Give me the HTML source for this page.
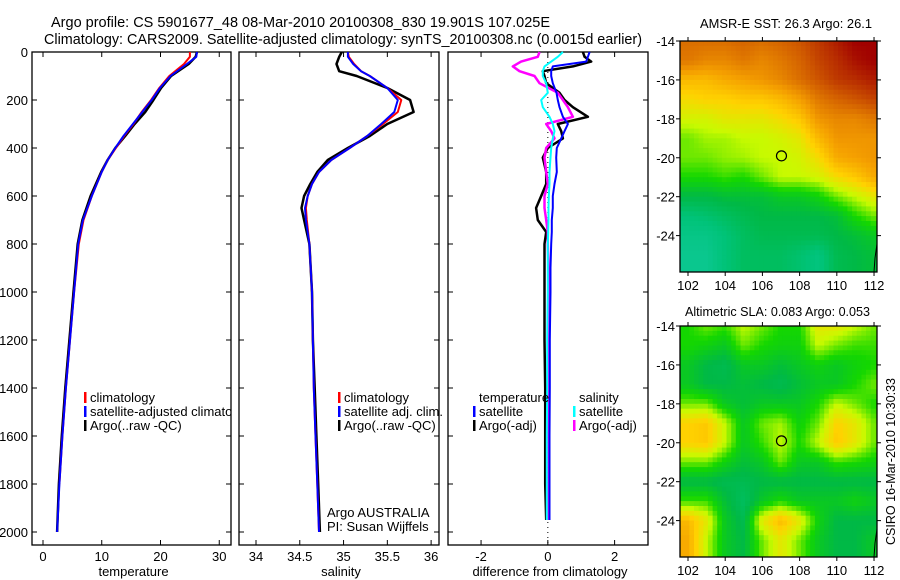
<!DOCTYPE html>
<html><head><meta charset="utf-8"><style>
html,body{margin:0;padding:0;background:#fff;}
svg{display:block;font-family:"Liberation Sans",sans-serif;}
text{fill:#000;}
</style></head><body>
<svg id="fig" width="900" height="580" viewBox="0 0 900 580">
<defs>
<clipPath id="clipT"><rect x="32" y="52" width="199" height="493"/></clipPath>
</defs>
<text x="51" y="27" font-size="15" textLength="499" lengthAdjust="spacingAndGlyphs">Argo profile: CS 5901677_48 08-Mar-2010 20100308_830 19.901S 107.025E</text>
<text x="44" y="44" font-size="15" textLength="598" lengthAdjust="spacingAndGlyphs">Climatology: CARS2009. Satellite-adjusted climatology: synTS_20100308.nc (0.0015d earlier)</text>
<text x="700" y="28" font-size="13" textLength="172" lengthAdjust="spacingAndGlyphs">AMSR-E SST: 26.3 Argo: 26.1</text>
<text x="685" y="316" font-size="13" textLength="185" lengthAdjust="spacingAndGlyphs">Altimetric SLA: 0.083 Argo: 0.053</text>
<text transform="translate(895,545) rotate(-90)" font-size="13" textLength="167" lengthAdjust="spacingAndGlyphs">CSIRO 16-Mar-2010 10:30:33</text>
<g id="layer"></g>
</svg>
<script>
// ---------- profile data ----------
const tDepth = [0,20,50,100,150,200,250,300,350,400,450,500,600,700,800,1000,1200,1400,1600,1800,2000];
const tempClim = [25.0,25.0,24.0,21.5,19.8,18.4,16.8,15.4,13.8,12.4,11.0,10.0,8.3,6.9,6.1,5.3,4.6,3.9,3.3,2.8,2.5];
const tempSat  = [26.2,26.1,24.5,21.7,19.9,18.5,16.9,15.3,13.7,12.3,11.0,10.0,8.3,6.8,6.0,5.3,4.6,3.9,3.3,2.8,2.4];
const tempArgo = [26.2,26.0,24.8,21.8,20.1,18.8,17.4,15.6,14.0,12.3,11.0,9.9,8.1,6.7,5.9,5.2,4.5,3.8,3.2,2.7,2.4];

const sDepth = [0,20,50,80,100,150,200,250,300,350,400,450,500,550,600,650,700,800,1000,1200,1400,1600,1800,2000];
const salClim = [35.05,35.06,35.12,35.2,35.3,35.5,35.66,35.62,35.45,35.27,35.07,34.86,34.72,34.64,34.59,34.57,34.58,34.61,34.64,34.65,34.66,34.68,34.7,34.72];
const salSat  = [35.05,35.05,35.11,35.2,35.3,35.5,35.62,35.58,35.43,35.27,35.07,34.86,34.72,34.64,34.59,34.56,34.57,34.61,34.64,34.65,34.66,34.68,34.7,34.72];
const salArgo = [34.98,34.95,34.92,34.95,35.15,35.5,35.76,35.8,35.5,35.3,35.05,34.82,34.7,34.62,34.55,34.52,34.55,34.61,34.64,34.65,34.67,34.69,34.71,34.73];

const dDepth = [0,20,40,60,80,100,130,170,200,230,270,300,330,360,400,440,500,550,600,650,700,750,800,900,1000,1200,1400,1600,1800,1950];
const dTempArgo = [1.05,1.1,1.3,0.75,-0.15,-0.1,-0.05,0.35,0.5,0.75,1.2,0.3,0.4,0.45,0.0,-0.15,-0.05,-0.05,-0.2,-0.35,-0.3,-0.05,-0.1,-0.1,-0.1,-0.1,-0.08,-0.08,-0.08,-0.05];
const dTempSat  = [1.25,1.2,1.15,0.15,0.1,0.1,0.15,0.26,0.3,0.35,0.45,0.6,0.5,0.4,0.27,0.25,0.27,0.2,0.15,0.15,0.12,0.12,0.1,0.08,0.08,0.06,0.06,0.05,0.05,0.05];
const dSalArgo  = [-0.25,-0.3,-0.8,-1.05,-0.85,-0.4,-0.25,0.3,0.45,0.6,0.75,-0.05,0.1,0.2,-0.05,-0.1,-0.05,0,-0.1,-0.1,-0.05,0,0,0.02,0.03,0.03,0.03,0.03,0.03,0.02];
const dSalSat   = [0.45,0.3,0.1,-0.1,-0.15,-0.15,-0.05,0,-0.2,-0.15,0.05,0.15,0.2,0.15,0.1,0.08,0.05,0.05,0.03,0.02,0.02,0.01,0,0,0,-0.02,-0.02,-0.03,-0.03,-0.03];

const depthTicks = [0,200,400,600,800,1000,1200,1400,1600,1800,2000];
const tempTicks = [0,10,20,30];
const salTicks = [34,34.5,35,35.5,36];
const diffTicks = [-2,0,2];

// ---------- map data (normalised colour index, rows lat -14..-25, cols lon 102..112) ----------
const mapLats = [-14,-15,-16,-17,-18,-19,-20,-21,-22,-23,-24,-25];
const mapLons = [102,103,104,105,106,107,108,109,110,111,112];
const sstGrid = [
[0.8,0.8,0.8,0.82,0.8,0.82,0.85,0.9,0.95,1,1],
[0.78,0.75,0.75,0.78,0.75,0.78,0.82,0.88,0.92,0.97,1],
[0.65,0.65,0.68,0.7,0.72,0.75,0.8,0.85,0.9,0.92,0.95],
[0.58,0.6,0.6,0.62,0.62,0.65,0.7,0.78,0.82,0.85,0.88],
[0.52,0.52,0.55,0.55,0.55,0.58,0.62,0.72,0.75,0.75,0.78],
[0.45,0.48,0.48,0.5,0.5,0.52,0.55,0.65,0.72,0.72,0.72],
[0.45,0.45,0.47,0.48,0.5,0.5,0.52,0.58,0.68,0.7,0.72],
[0.4,0.4,0.42,0.4,0.45,0.5,0.5,0.52,0.58,0.62,0.68],
[0.3,0.3,0.32,0.32,0.32,0.35,0.35,0.38,0.45,0.5,0.55],
[0.2,0.22,0.25,0.28,0.3,0.3,0.3,0.3,0.32,0.4,0.45],
[0.15,0.15,0.2,0.25,0.28,0.28,0.28,0.28,0.3,0.32,0.35],
[0.12,0.12,0.2,0.25,0.25,0.25,0.22,0.18,0.28,0.3,0.32]];
const slaGrid = [
[.4,.45,.42,.5,.45,.4,.4,.55,.55,.5,.45],
[.4,.38,.35,.45,.4,.38,.38,.5,.45,.42,.42],
[.35,.3,.28,.35,.35,.32,.35,.38,.35,.38,.4],
[.35,.3,.3,.32,.3,.28,.32,.35,.35,.4,.45],
[.45,.45,.35,.32,.35,.35,.35,.4,.5,.45,.4],
[.6,.62,.5,.35,.45,.48,.38,.45,.6,.55,.45],
[.6,.62,.5,.35,.42,.5,.4,.5,.62,.55,.45],
[.45,.45,.38,.32,.35,.45,.35,.35,.42,.4,.38],
[.3,.3,.28,.28,.3,.3,.3,.3,.3,.3,.3],
[.42,.42,.32,.25,.35,.4,.35,.35,.35,.38,.35],
[.65,.55,.35,.28,.55,.65,.55,.38,.3,.3,.3],
[.68,.5,.35,.3,.45,.55,.45,.35,.3,.3,.35]];
const latTicks = [-14,-16,-18,-20,-22,-24];
const lonTicks = [102,104,106,108,110,112];
const argoPos = [107.025,-19.901];

// ---------- helpers ----------
const NS = "http://www.w3.org/2000/svg";
const layer = document.getElementById('layer');
function mk(tag, attrs, parent){ const e=document.createElementNS(NS,tag); for(const k in attrs) e.setAttribute(k,attrs[k]); (parent||layer).appendChild(e); return e; }
function txt(x,y,s,anchor,size,parent){ const t=mk('text',{x:x,y:y,'font-size':size||13,'text-anchor':anchor||'start'},parent); t.textContent=s; return t; }

const depthY = d => 52 + d*0.24;
function panel(name, x0, x1, vmin, vmax, xTicks, xlabel){
  const g = mk('g',{});
  
  
  const xs = v => x0 + (v - vmin)/(vmax - vmin)*(x1 - x0);
  const fr = mk('rect',{x:x0,y:52,width:x1-x0,height:493,fill:'none',stroke:'#000','stroke-width':1.3},g);
  
  
  depthTicks.forEach(d=>{
    const y=depthY(d);
    mk('line',{x1:x0,x2:x0+5,y1:y,y2:y,stroke:'#000'},g);
    mk('line',{x1:x1-5,x2:x1,y1:y,y2:y,stroke:'#000'},g);
  });
  xTicks.forEach(v=>{
    const x=xs(v);
    mk('line',{x1:x,x2:x,y1:545,y2:540,stroke:'#000'},g);
    mk('line',{x1:x,x2:x,y1:52,y2:57,stroke:'#000'},g);
    const t=txt(x,561,String(v),'middle',13,g);
    
    
  });
  const xl=txt((x0+x1)/2+2,576,xlabel,'middle',13,g);
  
  
  return {g, xs};
}
function line(p, depths, vals, color, w, name){
  const pts = depths.map((d,i)=>p.xs(vals[i]).toFixed(1)+','+depthY(d).toFixed(1)).join(' ');
  const pl = mk('polyline',{points:pts,fill:'none',stroke:color,'stroke-width':w||2,'stroke-linejoin':'round'},p.g);
  
  
}
function legend(items, x, y0, parent){
  items.forEach((it,i)=>{
    const y=y0+i*14;
    if(it[0]) mk('rect',{x:x,y:y-10,width:2.5,height:11,fill:it[0]},parent);
    const t=txt(x+6,y,it[1],'start',13,parent);
    
    
  });
}

// depth tick labels
depthTicks.forEach(d=>{
  const t=txt(28,depthY(d)+5,String(d),'end',13);
  
  
});

// temperature panel
const pT = panel('temperature-panel',32,231,-1.87,32.0,tempTicks,'temperature');
line(pT,tDepth,tempArgo,'#000',2.5,'temp-argo-line');
line(pT,tDepth.slice(0,20),tempClim.slice(0,20),'#f00',2,'temp-climatology-line');
line(pT,tDepth,tempSat,'#00f',2,'temp-satellite-line');
const legT = mk('g',{'clip-path':'url(#clipT)'},pT.g);
legend([['#f00','climatology'],['#00f','satellite-adjusted climatology'],['#000','Argo(..raw -QC)']],84,402,legT);

// salinity panel
const pS = panel('salinity-panel',239,439,33.806,36.09,salTicks,'salinity');
line(pS,sDepth,salArgo,'#000',2.5,'sal-argo-line');
line(pS,sDepth,salClim,'#f00',2,'sal-climatology-line');
line(pS,sDepth,salSat,'#00f',2,'sal-satellite-line');
legend([['#f00','climatology'],['#00f','satellite adj. clim.'],['#000','Argo(..raw -QC)']],338,402,pS.g);
const a1=txt(327,517,'Argo AUSTRALIA','start',13,pS.g);


const a2=txt(327,531,'PI: Susan Wijffels','start',13,pS.g);



// difference panel
const pD = panel('difference-panel',448,648,-2.99,3.0,diffTicks,'difference from climatology');
const zl = mk('line',{x1:pD.xs(0),x2:pD.xs(0),y1:52,y2:545,stroke:'#000','stroke-dasharray':'1,4'},pD.g);


line(pD,dDepth,dTempArgo,'#000',2.5,'diff-temp-argo-line');
line(pD,dDepth,dSalArgo,'#f0f',2.5,'diff-sal-argo-line');
line(pD,dDepth,dTempSat,'#00f',2,'diff-temp-satellite-line');
line(pD,dDepth,dSalSat,'#0ff',2,'diff-sal-satellite-line');
legend([[null,'temperature'],['#00f','satellite'],['#000','Argo(-adj)']],473,402,pD.g);
legend([[null,'salinity'],['#0ff','satellite'],['#f0f','Argo(-adj)']],573,402,pD.g);

// ---------- maps ----------
const stops=[[0,[25,205,175]],[0.2,[0,195,120]],[0.3,[0,185,70]],[0.4,[20,215,0]],[0.5,[200,250,0]],[0.6,[255,210,0]],[0.7,[245,160,0]],[0.85,[205,85,0]],[1,[160,0,0]]];
function cmap(v){
  for(let i=1;i<stops.length;i++){
    if(v<=stops[i][0]){const a=stops[i-1],b=stops[i],t=(v-a[0])/(b[0]-a[0]);
      return 'rgb('+a[1].map((c,k)=>Math.round(c+(b[1][k]-c)*t)).join(',')+')';}
  }
  return 'rgb(160,0,0)';
}
function sample(grid, lon, lat){
  let c=Math.min(Math.max(lon-mapLons[0],0),mapLons.length-1.0001);
  let r=Math.min(Math.max(mapLats[0]-lat,0),mapLats.length-1.0001);
  const c0=Math.floor(c),r0=Math.floor(r),fc=c-c0,fr=r-r0;
  const a=grid[r0][c0],b=grid[r0][c0+1],d=grid[r0+1][c0],e=grid[r0+1][c0+1];
  return (a*(1-fc)+b*fc)*(1-fr)+(d*(1-fc)+e*fc)*fr;
}
function map(name, top, bottom, grid){
  const x0=680,x1=877, lon0=101.57, lon1=112.16, lat0=-14, lat1=-25.87;
  const g=mk('g',{});
  
  
  const xs=lon=>x0+(lon-lon0)/(lon1-lon0)*(x1-x0);
  const ys=lat=>top+(lat-lat0)/(lat1-lat0)*(bottom-top);
  const step=0.25;
  for(let lat=lat0; lat>lat1-0.001; lat-=step){
    for(let lon=lon0; lon<lon1; lon+=step){
      const xa=xs(lon), xb=Math.min(x1,xs(lon+step));
      const ya=ys(lat), yb=Math.min(bottom,ys(lat-step));
      if(yb<=ya||xb<=xa) continue;
      const cell=mk('rect',{x:xa.toFixed(1),y:ya.toFixed(1),width:(xb-xa+0.5).toFixed(1),height:(yb-ya+0.5).toFixed(1),fill:cmap(sample(grid,lon+step/2,lat-step/2))},g);
      
      
    }
  }
  mk('rect',{x:x0,y:top,width:x1-x0,height:bottom-top,fill:'none',stroke:'#000','stroke-width':1.3},g);
  latTicks.forEach(lat=>{
    const y=ys(lat);
    mk('line',{x1:x0-4,x2:x0,y1:y,y2:y,stroke:'#000'},g);
    mk('line',{x1:x1,x2:x1+4,y1:y,y2:y,stroke:'#000'},g);
    const t=txt(675,y+5,String(lat),'end',13,g);
    
    
  });
  lonTicks.forEach(lon=>{
    const x=xs(lon);
    mk('line',{x1:x,x2:x,y1:bottom,y2:bottom+4,stroke:'#000'},g);
    mk('line',{x1:x,x2:x,y1:top-4,y2:top,stroke:'#000'},g);
    const t=txt(x,bottom+18,String(lon),'middle',13,g);
    
    
  });
  const m=mk('circle',{cx:xs(argoPos[0]),cy:ys(argoPos[1]),r:5,fill:'none',stroke:'#000','stroke-width':1.2},g);
  
  
  const coast=mk('polyline',{points:(x1-3)+','+bottom+' '+(x1-2)+','+(bottom-14)+' '+x1+','+(bottom-28),fill:'none',stroke:'#000'},g);
  
  
}
map('sst-map',41,272,sstGrid);
map('sla-map',326,557,slaGrid);
</script>
</body></html>
